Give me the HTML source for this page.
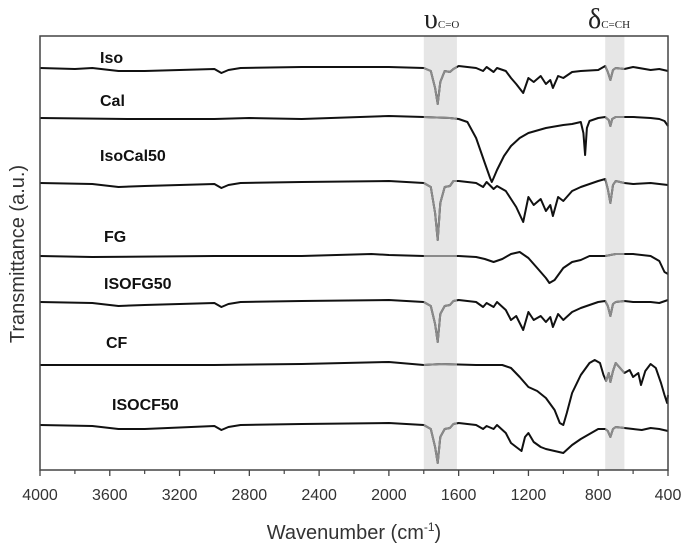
<!DOCTYPE html>
<html><head><meta charset="utf-8"><style>
body{margin:0;background:#fff}
svg{display:block}
</style></head><body>
<svg id="chart" width="685" height="549" xmlns="http://www.w3.org/2000/svg" font-family="Liberation Sans, sans-serif">
<defs><clipPath id="bandclip"><rect id="bc1" x="0" y="0" width="0" height="0"/><rect id="bc2" x="0" y="0" width="0" height="0"/></clipPath></defs>
<g id="bands"></g>
<g id="lines"></g>
<g id="axes"></g>
<text transform="translate(24,254) rotate(-90)" text-anchor="middle" font-size="20" fill="#333">Transmittance (a.u.)</text>
<text x="354" y="539" text-anchor="middle" font-size="20" fill="#333">Wavenumber (cm<tspan dy="-8" font-size="12">-1</tspan><tspan dy="8">)</tspan></text>
<text x="424" y="28" font-family="Liberation Serif, serif" fill="#222"><tspan font-size="28">υ</tspan><tspan font-size="11">C=O</tspan></text>
<text x="588" y="28" font-family="Liberation Serif, serif" fill="#222"><tspan font-size="28">δ</tspan><tspan font-size="11">C=CH</tspan></text>
</svg>
<script>
const ticks=[4000,3600,3200,2800,2400,2000,1600,1200,800,400];
const bandRanges=[[1800,1610],[760,650]];
const seriesNames=["Iso","Cal","IsoCal50","FG","ISOFG50","CF","ISOCF50"];
const baselines=[68,118,183,256,302,365,425];
const labelPos=[[100,63],[100,106],[100,161],[104,242],[104,289],[106,348],[112,410]];
const isoW=[4000,3800,3700,3550,3400,3000,2960,2920,2850,2500,2000,1800,1760,1735,1720,1705,1680,1650,1630,1600,1500,1460,1440,1400,1380,1330,1300,1270,1230,1200,1170,1130,1100,1075,1060,1030,1000,950,900,800,760,745,730,715,700,650,600,500,450,400];
const isoV=[0,1,0,3,3,1,5,2,0,-1,-1,0,3,20,36,14,3,4,1,-2,0,3,-1,4,0,3,10,16,25,10,14,8,16,12,20,8,10,4,3,2,-2,4,12,2,0,1,-1,2,1,3];
const calW=[4000,3500,3000,2800,2500,2000,1800,1650,1600,1550,1500,1450,1420,1410,1400,1380,1340,1300,1250,1200,1100,1000,950,900,885,875,865,850,800,760,740,730,720,700,600,500,450,420,400];
const calV=[0,1,1,0,1,-2,-1,0,1,4,20,45,60,64,60,52,38,28,20,15,10,7,6,4,15,37,10,3,0,-1,2,8,1,-1,-1,0,1,3,8];
const icW=[4000,3700,3550,3400,3000,2960,2920,2850,2500,2000,1800,1760,1735,1720,1705,1680,1650,1630,1600,1500,1460,1440,1400,1380,1330,1300,1270,1230,1200,1170,1130,1100,1075,1060,1030,1000,950,900,800,760,745,730,715,700,650,600,500,450,400];
const icV=[0,1,4,3,1,5,2,0,-1,-2,0,4,30,57,20,4,3,-2,-2,0,4,-1,6,3,8,16,24,39,14,22,16,28,22,33,14,18,8,4,-2,-4,6,20,2,-2,0,1,0,1,2];
const fgW=[4000,3700,3000,2500,2100,2000,1800,1600,1500,1450,1400,1350,1300,1250,1200,1150,1100,1080,1050,1000,950,900,850,800,760,700,650,600,500,450,420,400];
const fgV=[0,1,0,0,-2,-1,0,0,1,3,6,3,-2,-4,2,12,22,27,24,12,6,4,0,0,0,-2,-2,-2,0,5,16,18];
const ifW=[4000,3700,3550,3400,3000,2960,2920,2850,2500,2000,1800,1760,1735,1720,1705,1680,1650,1630,1600,1500,1460,1440,1400,1380,1330,1300,1270,1230,1200,1170,1130,1100,1075,1060,1030,1000,950,900,800,760,745,730,715,700,650,600,500,450,400];
const ifV=[0,1,4,3,1,5,2,0,-1,-2,0,4,22,40,12,4,3,-1,-2,0,5,1,5,0,8,18,14,28,10,18,14,20,15,25,12,18,10,6,0,-1,4,14,2,0,-1,0,0,1,-2];
const cfW=[4000,3500,3000,2500,2000,1800,1700,1500,1350,1300,1250,1200,1150,1100,1050,1020,1000,980,950,900,850,820,790,770,755,740,730,715,700,680,650,620,600,570,555,530,500,470,440,420,405,400];
const cfV=[0,0,0,-1,-3,0,-1,0,0,3,12,22,26,33,45,58,60,48,28,10,-2,-5,-2,10,16,8,17,6,-2,2,8,5,12,8,20,6,-1,3,18,30,38,30];
const icfW=[4000,3700,3550,3400,3000,2960,2920,2850,2500,2000,1800,1760,1735,1720,1705,1680,1650,1630,1600,1500,1460,1440,1400,1380,1330,1300,1270,1240,1220,1200,1170,1130,1100,1050,1000,950,900,800,760,745,730,715,700,650,600,550,500,450,400];
const icfV=[0,1,4,4,1,5,2,0,-1,-2,0,4,22,38,12,4,3,-1,-2,0,4,1,4,0,8,18,22,26,12,8,17,22,24,26,28,20,14,4,4,6,12,4,2,3,4,5,3,4,6];
const seriesW=[isoW,calW,icW,fgW,ifW,cfW,icfW];
const seriesV=[isoV,calV,icV,fgV,ifV,cfV,icfV];

const NS="http://www.w3.org/2000/svg";
const X0=40,X1=668,Y0=36,Y1=470;
const xs=w=>X0+(4000-w)/3600*(X1-X0);
function mk(tag,attrs,parent){const e=document.createElementNS(NS,tag);for(const k in attrs)e.setAttribute(k,attrs[k]);parent.appendChild(e);return e;}
const bandsG=document.getElementById('bands'),linesG=document.getElementById('lines'),axesG=document.getElementById('axes');
bandRanges.forEach((b,i)=>{
  const r=mk('rect',{x:xs(b[0]),y:Y0,width:xs(b[1])-xs(b[0]),height:Y1-Y0,fill:'#e6e6e6'},bandsG);
  
  
  const c=document.getElementById('bc'+(i+1));
  c.setAttribute('x',xs(b[0]));c.setAttribute('y',0);c.setAttribute('width',xs(b[1])-xs(b[0]));c.setAttribute('height',549);
});
seriesNames.forEach((n,i)=>{
  const pts=seriesW[i].map((w,j)=>xs(w).toFixed(1)+','+(baselines[i]+seriesV[i][j]).toFixed(1)).join(' ');
  const p=mk('polyline',{points:pts,fill:'none',stroke:'#111','stroke-width':2,'stroke-linejoin':'round'},linesG);
  
  
  const g=mk('polyline',{points:pts,fill:'none',stroke:'#8a8a8a','stroke-width':2,'stroke-linejoin':'round','clip-path':'url(#bandclip)'},linesG);
  
  
  const t=mk('text',{x:labelPos[i][0],y:labelPos[i][1],'font-size':16,'font-weight':'bold',fill:'#111'},linesG);
  t.textContent=n;
  
  
});
const fr=mk('rect',{x:X0,y:Y0,width:X1-X0,height:Y1-Y0,fill:'none',stroke:'#444','stroke-width':1.5},axesG);


ticks.forEach((w,i)=>{
  const x=xs(w);
  const tk=mk('line',{x1:x,x2:x,y1:Y1,y2:Y1+6,stroke:'#444','stroke-width':1.3},axesG);
  
  
  if(i<ticks.length-1){const xm=xs(w-200);const m=mk('line',{x1:xm,x2:xm,y1:Y1,y2:Y1+4,stroke:'#444','stroke-width':1.2},axesG);
  
  }
  const t=mk('text',{x:x,y:Y1+30,'text-anchor':'middle','font-size':16,fill:'#333'},axesG);
  t.textContent=w;
  
  
});
</script>
</body></html>
